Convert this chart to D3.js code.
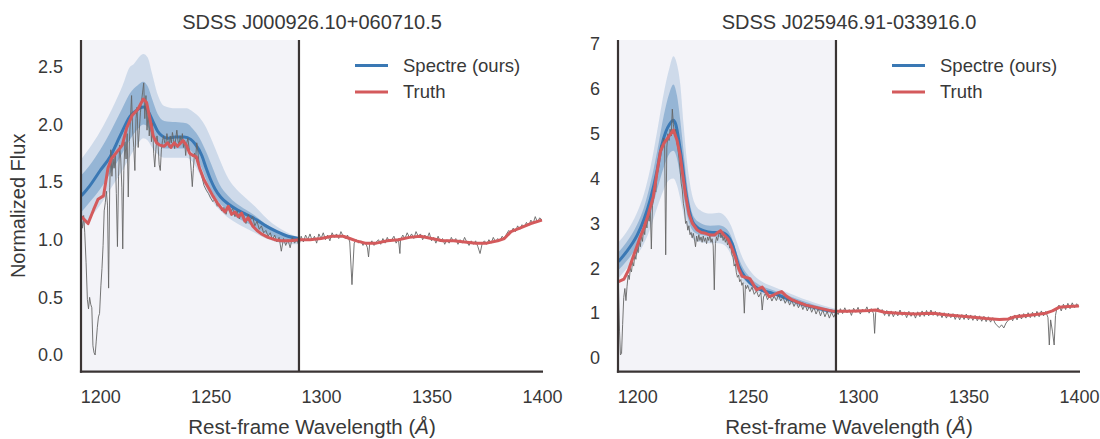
<!DOCTYPE html>
<html>
<head>
<meta charset="utf-8">
<script src="https://cdn.jsdelivr.net/npm/d3@7"></script>
<style>
  body { margin: 0; background: #fff; }
  svg { display: block; font-family: "Liberation Sans", Arial, Helvetica, sans-serif; }
</style>
</head>
<body>
<svg id="chart" width="1100" height="439"></svg>
<script>
// ---------- labels ----------
const titles = ["SDSS J000926.10+060710.5", "SDSS J025946.91-033916.0"];
const xTicks = [1200, 1250, 1300, 1350, 1400];
const leftYTicks = [0.0, 0.5, 1.0, 1.5, 2.0, 2.5];
const rightYTicks = [0, 1, 2, 3, 4, 5, 6, 7];
const legendLabels = ["Spectre (ours)", "Truth"];
const fitEdge = 1290;           // red edge of the predicted window (Å)

// ---------- J000926.10+060710.5 ----------
// observed spectrum [wavelength, flux]
const leftObs = [
[1191.5,1.17],[1192,1.10],[1192.5,1.21],[1193,1.06],[1193.6,0.80],[1194.2,0.48],[1194.7,0.40],[1195.2,0.50],[1195.7,0.44],[1196.2,0.41],
[1196.7,0.08],[1197.2,0.02],[1197.7,0.00],[1198.2,0.12],[1198.7,0.24],[1199.2,0.33],[1199.7,0.36],[1200.3,0.60],[1200.8,0.75],[1201.3,0.95],
[1201.8,1.25],[1202.3,1.32],[1202.8,1.42],[1203.3,1.30],[1203.8,0.58],[1204.3,1.45],[1204.8,1.78],[1205.3,1.55],[1205.8,1.70],[1206.3,1.62],
[1206.8,1.75],[1207.3,1.40],[1207.8,0.94],[1208.3,1.55],[1208.8,1.82],[1209.3,1.70],[1209.8,1.45],[1210.2,0.92],[1210.7,1.60],[1211.2,1.85],
[1211.7,1.70],[1212.2,1.92],[1212.7,1.37],[1213.2,1.85],[1213.7,2.05],[1214.2,2.25],[1214.7,1.95],[1215.2,1.80],[1215.7,1.60],[1216.2,2.05],
[1216.7,2.15],[1217.2,1.80],[1217.7,1.95],[1218.2,2.10],[1218.7,2.20],[1219.2,2.28],[1219.7,2.36],[1220.2,2.05],[1220.7,2.25],[1221.2,1.95],
[1221.7,2.12],[1222.2,1.90],[1222.7,2.05],[1223.2,1.85],[1223.7,2.01],[1224.2,1.75],[1224.7,1.63],[1225.2,1.78],[1225.7,1.90],[1226.2,1.82],
[1226.7,1.65],[1227.2,1.60],[1227.7,1.78],[1228.2,1.86],[1228.7,1.90],[1229.2,1.84],[1229.7,1.83],[1230.2,1.92],[1230.7,1.86],[1231.2,1.80],
[1231.7,1.90],[1232.2,1.84],[1232.7,1.93],[1233.2,1.87],[1233.7,1.79],[1234.2,1.88],[1234.7,1.95],[1235.2,1.86],[1235.7,1.82],[1236.2,1.90],
[1236.7,1.84],[1237.2,1.92],[1237.7,1.80],[1238.2,1.86],[1238.7,1.73],[1239.2,1.84],[1239.7,1.88],[1240.2,1.80],[1240.7,1.72],[1241.2,1.60],
[1241.7,1.46],[1242.2,1.62],[1242.7,1.75],[1243.2,1.70],[1243.7,1.84],[1244.2,1.78],[1244.7,1.66],[1245.2,1.60],[1246,1.55],[1247,1.47],
[1248,1.43],[1249,1.40],[1250,1.36],[1251,1.33],[1252,1.35],[1253,1.29],[1254,1.31],[1255,1.25],[1256,1.28],[1257,1.22],
[1258,1.30],[1259,1.24],[1260,1.27],[1261,1.20],[1262,1.25],[1263,1.18],[1264,1.24],[1265,1.21],[1266,1.14],[1267,1.22],
[1268,1.17],[1269,1.20],[1270,1.12],[1271,1.16],[1272,1.09],[1273,1.12],[1274,1.06],[1275,1.08],[1276,1.03],[1277,1.06],
[1278,1.00],[1279,1.04],[1280,0.98],[1281,1.02],[1282,0.90],[1283,1.01],[1284,0.95],[1285,1.00],[1286,0.93],[1287,1.02],
[1288,0.97],[1289,1.00],[1290,0.95],[1291,1.03],[1292,0.98],[1293,1.04],[1294,1.00],[1295,1.05],[1296,0.99],[1297,1.03],
[1298,0.97],[1299,1.05],[1300,1.01],[1301,1.06],[1302,1.00],[1303,1.04],[1304,0.99],[1305,1.06],[1306,1.02],[1307,1.05],
[1308,1.01],[1309,1.07],[1310,1.03],[1311,1.01],[1312,1.04],[1313,0.98],[1314,0.61],[1315,0.97],[1316,1.00],[1317,0.97],
[1318,0.99],[1319,0.95],[1320,0.98],[1321,0.93],[1321.5,0.85],[1322,0.96],[1323,0.99],[1324,0.95],[1325,0.98],[1326,1.00],
[1327,0.96],[1328,1.01],[1329,0.97],[1330,1.02],[1331,0.98],[1332,1.00],[1333,1.03],[1334,0.97],[1335,1.01],[1335.7,0.88],
[1336,1.00],[1337,1.04],[1338,1.01],[1339,1.06],[1340,1.02],[1341,1.05],[1342,1.01],[1343,1.07],[1344,1.03],[1345,1.05],
[1346,1.00],[1347,1.04],[1348,1.01],[1349,1.06],[1350,0.99],[1351,1.02],[1352,0.97],[1353,1.03],[1354,0.98],[1355,1.01],
[1356,0.96],[1357,1.00],[1358,0.97],[1359,1.02],[1360,0.98],[1361,1.01],[1362,0.96],[1363,1.00],[1364,0.97],[1365,1.02],
[1366,0.98],[1367,0.95],[1368,0.99],[1369,0.96],[1370,0.99],[1371,0.94],[1372,0.88],[1373,0.97],[1374,0.99],[1375,0.96],
[1376,1.00],[1377,0.97],[1378,1.02],[1379,0.98],[1380,1.01],[1381,0.99],[1382,1.03],[1383,1.01],[1384,1.05],[1385,1.08],
[1386,1.06],[1387,1.10],[1388,1.07],[1389,1.12],[1390,1.09],[1391,1.13],[1392,1.11],[1393,1.15],[1394,1.12],[1395,1.17],
[1396,1.14],[1397,1.20],[1398,1.15],[1399,1.19],[1400,1.17]
];
// true continuum [wavelength, flux]
const leftTruth = [
[1191.5,1.20],[1194.5,1.14],[1197,1.26],[1199,1.35],[1201.5,1.38],[1203.5,1.62],[1205,1.70],[1207.5,1.76],[1210,1.82],[1212,1.97],
[1214.5,2.08],[1217,2.13],[1219.5,2.22],[1221,2.19],[1222.5,2.05],[1224,1.90],[1225.5,1.84],[1227,1.82],[1229,1.81],[1230.5,1.84],
[1232,1.80],[1233.5,1.84],[1235,1.81],[1237.5,1.86],[1239,1.82],[1240.5,1.75],[1242,1.73],[1243.5,1.72],[1245,1.62],[1247,1.52],
[1249,1.45],[1251,1.38],[1253,1.32],[1255,1.27],[1256.5,1.24],[1258,1.29],[1259.5,1.22],[1261,1.24],[1262.5,1.20],[1264,1.23],
[1265.5,1.16],[1267,1.19],[1269,1.12],[1271,1.08],[1273,1.05],[1276,1.02],[1279,1.00],[1282,0.99],[1286,0.99],[1290,1.00],
[1295,1.00],[1300,1.01],[1305,1.03],[1310,1.03],[1313,1.01],[1316,0.99],[1320,0.97],[1325,0.97],[1330,0.99],[1335,1.00],
[1340,1.02],[1345,1.03],[1350,1.01],[1355,0.99],[1360,0.99],[1365,0.98],[1370,0.97],[1375,0.97],[1380,0.99],[1383,1.01],
[1386,1.07],[1390,1.10],[1395,1.14],[1400,1.17]
];
// predicted median [wavelength, flux]
const leftMedian = [
[1191.5,1.38],[1195,1.46],[1200,1.60],[1204.5,1.72],[1209,1.90],[1213.5,2.07],[1217,2.13],[1219.5,2.15],[1221.8,2.11],[1224,2.02],
[1226,1.94],[1228,1.90],[1230.5,1.88],[1234,1.89],[1238,1.89],[1241,1.87],[1243,1.83],[1246,1.73],[1248,1.62],[1250,1.52],
[1252,1.44],[1254.5,1.37],[1258,1.31],[1262,1.26],[1266,1.22],[1271,1.17],[1275,1.12],[1280,1.07],[1285,1.03],[1290,1.01]
];
// predicted intervals [wavelength, low, high]
const leftBand68 = [
[1191.5,1.24,1.56],[1195,1.32,1.64],[1200,1.44,1.78],[1205,1.59,1.95],[1210,1.75,2.14],[1213.5,1.87,2.27],[1217,1.96,2.34],[1219.5,2.00,2.37],
[1221.5,1.98,2.33],[1223.5,1.91,2.22],[1226,1.83,2.09],[1229,1.79,2.03],[1234,1.79,2.02],[1239,1.79,2.01],[1242,1.75,1.96],[1245,1.66,1.88],
[1248,1.52,1.76],[1251,1.40,1.62],[1254,1.32,1.48],[1258,1.25,1.38],[1262,1.19,1.31],[1266,1.15,1.26],[1270,1.11,1.21],[1274,1.06,1.15],
[1278,1.03,1.10],[1282,1.00,1.06],[1286,0.98,1.03],[1290,0.98,1.01]
];
const leftBand95 = [
[1191.5,1.10,1.70],[1195,1.18,1.79],[1200,1.30,1.94],[1205,1.45,2.12],[1210,1.60,2.33],[1213.5,1.72,2.50],[1215,1.77,2.52],[1217,1.83,2.57],
[1219.5,1.88,2.61],[1221.5,1.86,2.58],[1223.5,1.80,2.44],[1226,1.74,2.26],[1229,1.71,2.16],[1234,1.71,2.14],[1239,1.71,2.14],[1242,1.67,2.11],
[1245,1.57,2.06],[1248,1.44,1.97],[1251,1.33,1.84],[1254,1.26,1.70],[1258,1.19,1.53],[1262,1.14,1.43],[1266,1.10,1.36],[1270,1.06,1.29],
[1274,1.02,1.21],[1278,0.99,1.14],[1282,0.97,1.09],[1286,0.96,1.05],[1290,0.96,1.02]
];

// ---------- J025946.91-033916.0 ----------
const rightObs = [
[1191.5,1.62],[1192,0.60],[1192.4,0.07],[1192.9,0.10],[1193.4,0.75],[1193.9,1.35],[1194.4,1.55],[1194.9,1.28],[1195.4,1.60],[1195.9,1.85],
[1196.4,1.75],[1196.9,2.00],[1197.4,1.92],[1197.9,2.15],[1198.4,2.05],[1198.9,2.30],[1199.4,2.20],[1199.9,2.45],[1200.4,2.35],[1200.9,2.60],
[1201.4,2.48],[1201.9,2.72],[1202.4,2.60],[1202.9,2.90],[1203.4,2.75],[1203.9,3.05],[1204.4,2.90],[1204.9,3.20],[1205.4,3.05],[1205.9,3.35],
[1206.4,2.43],[1206.9,3.40],[1207.4,3.55],[1207.9,3.80],[1208.4,3.70],[1208.9,4.05],[1209.4,4.20],[1209.9,4.40],[1210.4,4.60],[1210.9,4.75],
[1211.4,4.65],[1211.9,4.90],[1212.4,4.80],[1212.9,2.30],[1213.4,4.70],[1213.9,5.00],[1214.4,4.85],[1214.9,5.10],[1215.4,4.95],[1215.9,5.55],
[1216.4,5.20],[1216.9,5.00],[1217.4,5.10],[1217.9,4.80],[1218.4,4.70],[1218.9,4.45],[1219.4,4.20],[1219.9,3.90],[1220.4,3.75],[1220.9,3.45],
[1221.4,3.30],[1221.9,3.00],[1222.4,3.05],[1222.9,2.85],[1223.4,2.95],[1223.9,2.75],[1224.4,2.80],[1224.9,2.68],[1225.4,2.78],[1225.9,2.65],
[1226.4,2.48],[1226.9,2.72],[1227.4,2.60],[1227.9,2.75],[1228.4,2.62],[1228.9,2.70],[1229.4,2.58],[1229.9,2.72],[1230.4,2.60],[1230.9,2.68],
[1231.4,2.55],[1231.9,2.70],[1232.4,2.62],[1232.9,2.74],[1233.4,2.58],[1233.9,2.66],[1234.4,2.50],[1234.9,1.52],[1235.4,2.55],[1235.9,2.70],
[1236.4,2.62],[1236.9,2.75],[1237.4,2.85],[1237.9,2.68],[1238.4,2.76],[1238.9,2.62],[1239.4,2.70],[1239.9,2.58],[1240.4,2.66],[1240.9,2.52],
[1241.4,2.60],[1241.9,2.45],[1242.4,2.50],[1242.9,2.30],[1243.4,2.25],[1243.9,2.05],[1244.4,2.10],[1244.9,1.90],[1245.4,1.80],[1245.9,1.85],
[1246.4,1.70],[1246.9,1.75],[1247.4,1.62],[1247.9,1.68],[1248.5,1.00],[1249,1.62],[1249.5,1.55],[1250,1.62],[1251,1.48],[1252,1.58],
[1253,1.42],[1254,1.50],[1255,1.36],[1256,1.46],[1256.6,1.07],[1257.2,1.36],[1258,1.44],[1259,1.30],[1260,1.40],[1261,1.27],
[1262,1.38],[1263,1.28],[1264,1.40],[1265,1.27],[1266,1.36],[1267,1.22],[1268,1.32],[1269,1.18],[1270,1.29],[1271,1.15],
[1272,1.26],[1273,1.12],[1274,1.22],[1275,1.08],[1276,1.20],[1277,1.05],[1278,1.16],[1279,1.02],[1280,1.13],[1281,0.98],
[1282,1.10],[1283,0.94],[1284,1.07],[1285,0.92],[1286,1.04],[1287,0.89],[1288,1.02],[1289,0.91],[1290,1.03],[1291,0.97],
[1292,1.10],[1293,0.99],[1294,1.12],[1295,1.01],[1296,1.08],[1297,0.95],[1298,1.11],[1299,1.02],[1300,1.13],[1301,0.98],
[1302,1.09],[1303,1.03],[1304,1.14],[1305,1.00],[1306,1.10],[1307,0.99],[1307.5,0.55],[1308,1.02],[1309,1.12],[1310,1.04],
[1311,1.08],[1312,0.95],[1313,1.06],[1314,0.93],[1315,1.05],[1316,0.92],[1317,1.04],[1318,0.94],[1319,1.07],[1320,0.95],
[1321,1.03],[1322,0.90],[1323,1.04],[1324,0.93],[1325,1.02],[1326,0.89],[1327,1.03],[1328,0.92],[1329,1.05],[1330,0.93],
[1331,1.06],[1332,0.94],[1333,1.07],[1334,0.95],[1335,1.04],[1336,0.93],[1337,1.02],[1338,0.90],[1339,1.01],[1340,0.89],
[1341,1.00],[1342,0.90],[1343,0.99],[1344,0.86],[1345,0.98],[1346,0.85],[1347,0.97],[1348,0.86],[1349,0.98],[1350,0.85],
[1351,0.96],[1352,0.84],[1353,0.95],[1354,0.83],[1355,0.94],[1356,0.82],[1357,0.93],[1358,0.81],[1359,0.92],[1360,0.80],
[1361,0.90],[1362,0.78],[1363,0.72],[1364,0.68],[1365,0.74],[1366,0.67],[1367,0.78],[1368,0.84],[1369,0.93],[1370,0.83],
[1371,0.96],[1372,0.85],[1373,0.98],[1374,0.87],[1375,0.99],[1376,0.89],[1377,1.01],[1378,0.90],[1379,1.02],[1380,0.91],
[1381,1.04],[1382,0.92],[1383,1.05],[1384,0.94],[1385,1.04],[1386,0.90],[1386.6,0.29],[1387.2,0.85],[1388,0.60],[1388.8,0.29],
[1389.4,0.95],[1390,1.10],[1391,1.18],[1392,1.05],[1393,1.20],[1394,1.08],[1395,1.22],[1396,1.10],[1397,1.23],[1398,1.12],
[1399,1.21],[1400,1.14]
];
const rightTruth = [
[1191.5,1.70],[1194,1.76],[1196,1.95],[1198.5,2.30],[1201,2.65],[1203,2.90],[1205,3.20],[1207.3,3.60],[1209,4.15],[1210.5,4.60],
[1212,4.78],[1214,4.92],[1216.4,5.08],[1218,4.86],[1219.5,4.50],[1220.5,4.12],[1222,3.60],[1223.5,3.20],[1225,3.00],[1227,2.86],
[1229,2.80],[1231,2.78],[1233,2.74],[1235,2.74],[1236.5,2.80],[1237.7,2.84],[1239,2.76],[1241,2.66],[1242.5,2.50],[1244.5,2.24],
[1246,1.98],[1247.5,1.82],[1249,1.80],[1251,1.77],[1254,1.52],[1256.6,1.58],[1259.8,1.37],[1261.5,1.40],[1263.5,1.45],[1265.4,1.48],
[1267.5,1.38],[1270,1.30],[1273,1.24],[1276.4,1.18],[1280,1.14],[1284.4,1.09],[1289,1.04],[1295,1.04],[1300,1.05],[1305,1.06],
[1308,1.07],[1312,1.02],[1318.5,1.00],[1326,0.98],[1330,0.99],[1334,1.00],[1340.7,0.96],[1350,0.92],[1358,0.88],[1364,0.86],
[1368,0.87],[1371,0.92],[1378.5,0.96],[1385,1.00],[1388,1.05],[1391,1.13],[1395,1.15],[1400,1.16]
];
const rightMedian = [
[1191.5,2.15],[1195,2.36],[1200,2.74],[1203,3.08],[1206,3.55],[1209,4.18],[1211,4.72],[1213,5.05],[1214.5,5.20],[1216.4,5.30],
[1217.5,5.20],[1219,4.80],[1220.5,4.30],[1222,3.70],[1223.5,3.30],[1225,3.05],[1227,2.92],[1230,2.84],[1234,2.80],[1238,2.80],
[1241,2.72],[1243,2.55],[1246,2.05],[1249.5,1.76],[1253,1.60],[1256,1.52],[1260,1.46],[1264,1.40],[1268,1.32],[1272,1.25],
[1276,1.18],[1280,1.13],[1285,1.07],[1290,1.03]
];
const rightBand68 = [
[1191.5,1.96,2.36],[1195,2.15,2.57],[1200,2.50,2.98],[1203,2.80,3.35],[1206,3.20,3.90],[1209,3.75,4.60],[1212,4.25,5.40],[1214.5,4.55,5.90],
[1216.4,4.62,6.10],[1218,4.45,5.85],[1219.5,4.05,5.30],[1221,3.60,4.60],[1222.5,3.20,3.90],[1224,2.95,3.40],[1226,2.80,3.12],[1229,2.74,3.00],
[1233,2.71,2.95],[1237,2.70,2.96],[1240,2.64,2.90],[1242.5,2.45,2.72],[1245,2.05,2.35],[1248,1.78,2.00],[1251,1.63,1.80],[1255,1.51,1.64],
[1260,1.43,1.54],[1265,1.35,1.45],[1270,1.26,1.36],[1275,1.19,1.27],[1280,1.12,1.19],[1285,1.06,1.12],[1290,1.01,1.05]
];
const rightBand95 = [
[1191.5,1.78,2.58],[1195,1.98,2.80],[1200,2.30,3.25],[1203,2.55,3.65],[1206,2.90,4.25],[1209,3.35,5.05],[1212,3.75,5.90],[1214.5,3.97,6.45],
[1216.4,4.00,6.73],[1218,3.85,6.55],[1219.5,3.55,6.10],[1221,3.20,5.20],[1222.5,2.95,4.40],[1224,2.75,3.85],[1226,2.62,3.45],[1229,2.58,3.28],
[1233,2.56,3.22],[1237,2.56,3.24],[1240,2.50,3.15],[1242.5,2.30,2.95],[1245,1.95,2.60],[1248,1.68,2.20],[1251,1.55,1.95],[1255,1.45,1.75],
[1260,1.36,1.62],[1265,1.28,1.52],[1270,1.20,1.42],[1275,1.13,1.32],[1280,1.07,1.24],[1285,1.02,1.16],[1290,0.98,1.10]
];

// ---------- layout & style ----------
const W = 1100, H = 439;
const plotTop = 40, plotBottom = 371.7;
const xDomain = [1191.3, 1400.5];
const ink = "#3a3434", textInk = "#383838";
const blue = "#3a78b4", red = "#d45a5c", grey = "#666666";

const panels = [
  { x0: 81, x1: 543, yDomain: [-0.145, 2.732], yTicks: leftYTicks, fmt: d3.format(".1f"),
    title: titles[0], obs: leftObs, truth: leftTruth, median: leftMedian,
    band68: leftBand68, band95: leftBand95, yLabel: "Normalized Flux" },
  { x0: 618, x1: 1080, yDomain: [-0.305, 7.09], yTicks: rightYTicks, fmt: d3.format("d"),
    title: titles[1], obs: rightObs, truth: rightTruth, median: rightMedian,
    band68: rightBand68, band95: rightBand95, yLabel: null }
];

const svg = d3.select("#chart").attr("viewBox", `0 0 ${W} ${H}`);

panels.forEach((p, i) => {
  const x = d3.scaleLinear().domain(xDomain).range([p.x0, p.x1]);
  const y = d3.scaleLinear().domain(p.yDomain).range([plotBottom, plotTop]);
  const g = svg.append("g");

  const clipId = "clip" + i;
  g.append("clipPath").attr("id", clipId)
    .append("rect").attr("x", p.x0).attr("y", plotTop)
    .attr("width", p.x1 - p.x0).attr("height", plotBottom - plotTop);

  // predicted window shading
  g.append("rect")
    .attr("x", x(xDomain[0])).attr("y", plotTop)
    .attr("width", x(fitEdge) - x(xDomain[0])).attr("height", plotBottom - plotTop)
    .attr("fill", "#f3f3f8");

  const plot = g.append("g").attr("clip-path", `url(#${clipId})`);

  const area = d3.area().x(d => x(d[0])).y0(d => y(d[1])).y1(d => y(d[2]))
    .curve(d3.curveMonotoneX);
  plot.append("path").datum(p.band95).attr("d", area)
    .attr("fill", blue).attr("fill-opacity", 0.2);
  plot.append("path").datum(p.band68).attr("d", area)
    .attr("fill", blue).attr("fill-opacity", 0.38);

  const smooth = d3.line().x(d => x(d[0])).y(d => y(d[1])).curve(d3.curveMonotoneX);
  const straight = d3.line().x(d => x(d[0])).y(d => y(d[1]));

  plot.append("path").datum(p.median).attr("d", smooth)
    .attr("fill", "none").attr("stroke", blue).attr("stroke-width", 3);

  plot.append("path").datum(p.obs).attr("d", straight)
    .attr("fill", "none").attr("stroke", grey).attr("stroke-width", 1)
    .attr("stroke-opacity", 0.9).attr("stroke-linejoin", "round");

  plot.append("path").datum(p.truth).attr("d", straight)
    .attr("fill", "none").attr("stroke", red).attr("stroke-width", 3)
    .attr("stroke-linejoin", "round");

  // edge of predicted window
  g.append("line")
    .attr("x1", x(fitEdge)).attr("x2", x(fitEdge))
    .attr("y1", plotTop).attr("y2", plotBottom)
    .attr("stroke", ink).attr("stroke-width", 2.2);

  // axes
  const xAxis = d3.axisBottom(x).tickValues(xTicks).tickSize(0).tickPadding(19)
    .tickFormat(d3.format("d"));
  const gx = g.append("g").attr("transform", `translate(0,${plotBottom})`).call(xAxis);
  const yAxis = d3.axisLeft(y).tickValues(p.yTicks).tickSize(0).tickPadding(18)
    .tickFormat(p.fmt);
  const gy = g.append("g").attr("transform", `translate(${p.x0},0)`).call(yAxis);
  [gx, gy].forEach(a => {
    a.select(".domain").remove();
    a.selectAll("text").attr("fill", textInk).style("font-size", "18px")
      .style("font-family", "'Liberation Sans', Arial, sans-serif");
  });

  // spines
  g.append("line").attr("x1", p.x0).attr("x2", p.x0).attr("y1", plotTop).attr("y2", plotBottom + 1.1)
    .attr("stroke", ink).attr("stroke-width", 2.2);
  g.append("line").attr("x1", p.x0 - 1.1).attr("x2", p.x1).attr("y1", plotBottom).attr("y2", plotBottom)
    .attr("stroke", ink).attr("stroke-width", 2.2);

  // title
  g.append("text").attr("x", (p.x0 + p.x1) / 2).attr("y", 29)
    .attr("text-anchor", "middle").attr("fill", textInk).style("font-size", "20px")
    .text(p.title);

  // x label
  const xl = g.append("text").attr("x", (p.x0 + p.x1) / 2).attr("y", 434)
    .attr("text-anchor", "middle").attr("fill", textInk).style("font-size", "20.5px");
  xl.append("tspan").text("Rest-frame Wavelength (");
  xl.append("tspan").attr("font-style", "italic").text("Å");
  xl.append("tspan").text(")");

  if (p.yLabel) {
    g.append("text")
      .attr("transform", `translate(25,${(plotTop + plotBottom) / 2}) rotate(-90)`)
      .attr("text-anchor", "middle").attr("fill", textInk).style("font-size", "20px")
      .text(p.yLabel);
  }

  // legend
  const lg = g.append("g").attr("transform", `translate(${p.x0 + 274},0)`);
  [[legendLabels[0], blue, 65.5], [legendLabels[1], red, 92]].forEach(([lab, col, ly]) => {
    lg.append("line").attr("x1", 0).attr("x2", 33).attr("y1", ly).attr("y2", ly)
      .attr("stroke", col).attr("stroke-width", 3);
    lg.append("text").attr("x", 48).attr("y", ly).attr("dy", "0.35em")
      .attr("fill", textInk).style("font-size", "18.5px").text(lab);
  });
});
</script>
</body>
</html>
